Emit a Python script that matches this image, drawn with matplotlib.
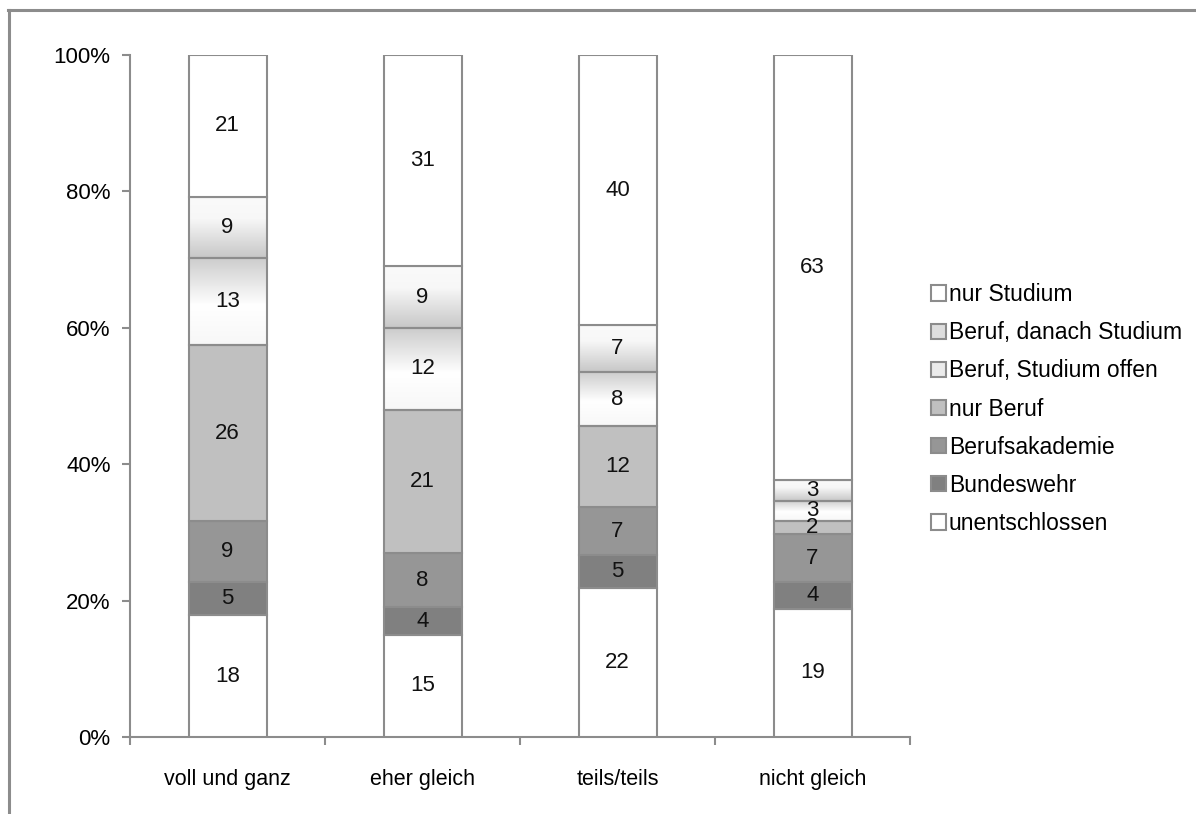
import numpy as np
import matplotlib.pyplot as plt
from matplotlib.lines import Line2D
from matplotlib.patches import Patch

plt.rcParams['font.family'] = ['Liberation Sans Narrow', 'Liberation Sans', 'DejaVu Sans']

categories = ['voll und ganz', 'eher gleich', 'teils/teils', 'nicht gleich']
groups = ['unentschlossen', 'Bundeswehr', 'Berufsakademie', 'nur Beruf',
          'Beruf, Studium offen', 'Beruf, danach Studium', 'nur Studium']

# counts per category, bottom to top
values = {
    'unentschlossen':        [18, 15, 22, 19],
    'Bundeswehr':            [5, 4, 5, 4],
    'Berufsakademie':        [9, 8, 7, 7],
    'nur Beruf':             [26, 21, 12, 2],
    'Beruf, Studium offen':  [13, 12, 8, 3],
    'Beruf, danach Studium': [9, 9, 7, 3],
    'nur Studium':           [21, 31, 40, 63],
}

colors = {
    'unentschlossen': '#ffffff',
    'Bundeswehr': '#808080',
    'Berufsakademie': '#969696',
    'nur Beruf': '#c0c0c0',
    'Beruf, Studium offen': None,
    'Beruf, danach Studium': None,
    'nur Studium': '#ffffff',
}
# vertical gradients (top -> bottom) for the two mixed groups
gradients = {
    'Beruf, Studium offen': [(0.0, 0.80), (0.55, 1.0), (1.0, 0.97)],
    'Beruf, danach Studium': [(0.0, 0.98), (0.35, 0.97), (1.0, 0.78)],
}
edge = '#8c8c8c'
fs = 15.5

fig = plt.figure(figsize=(11.96, 8.14), dpi=100)
ax = fig.add_axes([130 / 1196, 1 - 737 / 814, 780 / 1196, 682 / 814])

x = np.arange(len(categories))
totals = np.sum([values[g] for g in groups], axis=0)
bottom = np.zeros(len(categories))


def gradient_image(stops):
    t = np.linspace(0, 1, 256)
    pos = [s[0] for s in stops]
    lev = [s[1] for s in stops]
    g = np.interp(t, pos, lev)
    return np.dstack([g, g, g]).reshape(256, 1, 3)


for g in groups:
    frac = np.array(values[g]) / totals
    if g in gradients:
        bars = ax.bar(x, frac, 0.4, bottom=bottom, facecolor='none',
                      edgecolor=edge, linewidth=1.5, zorder=3)
        img = gradient_image(gradients[g])
        for b in bars:
            im = ax.imshow(img, aspect='auto', interpolation='bilinear',
                           extent=(b.get_x(), b.get_x() + b.get_width(),
                                   b.get_y(), b.get_y() + b.get_height()),
                           zorder=2)
            im.set_clip_path(b)
    else:
        bars = ax.bar(x, frac, 0.4, bottom=bottom, color=colors[g],
                      edgecolor=edge, linewidth=1.5, zorder=3)
    for xi, b0, f, v in zip(x, bottom, frac, values[g]):
        ax.text(xi, b0 + f / 2, str(v), ha='center', va='center',
                fontsize=16, color='#111111', zorder=4)
    bottom += frac

ax.set_xlim(-0.5, len(categories) - 0.5)
ax.set_ylim(0, 1)
ax.set_yticks(np.linspace(0, 1, 6))
ax.set_yticklabels(['0%', '20%', '40%', '60%', '80%', '100%'], fontsize=16)
ax.set_xticks(x)
ax.set_xticklabels(categories, fontsize=fs)
ax.set_xticks(np.arange(len(categories) + 1) - 0.5, minor=True)
ax.tick_params(axis='x', which='major', length=0, pad=23)
ax.tick_params(axis='x', which='minor', length=6, width=1.5, color=edge)
ax.tick_params(axis='y', length=6, width=1.5, color=edge, pad=8)
for s in ['top', 'right']:
    ax.spines[s].set_visible(False)
for s in ['left', 'bottom']:
    ax.spines[s].set_color(edge)
    ax.spines[s].set_linewidth(1.5)

legend_colors = {
    'Beruf, Studium offen': '#ebebeb',
    'Beruf, danach Studium': '#dedede',
}
handles = [Patch(facecolor=legend_colors.get(g, colors[g]), edgecolor=edge,
                 linewidth=1.5, label=g) for g in reversed(groups)]
fig.legend(handles=handles, loc='upper left', bbox_to_anchor=(922 / 1196, 1 - 274 / 814),
           frameon=False, fontsize=16.5, handlelength=0.65, handleheight=0.65,
           handletextpad=0.12, labelspacing=0.66, borderaxespad=0)

# outer frame (top and left edges)
fig.add_artist(Line2D([8 / 1196, 1], [1 - 10 / 814] * 2, color=edge, lw=2.2,
                      transform=fig.transFigure))
fig.add_artist(Line2D([8.5 / 1196] * 2, [0.003, 1 - 10 / 814], color=edge, lw=2.2,
                      transform=fig.transFigure))

fig.savefig('out.png', dpi=100)
